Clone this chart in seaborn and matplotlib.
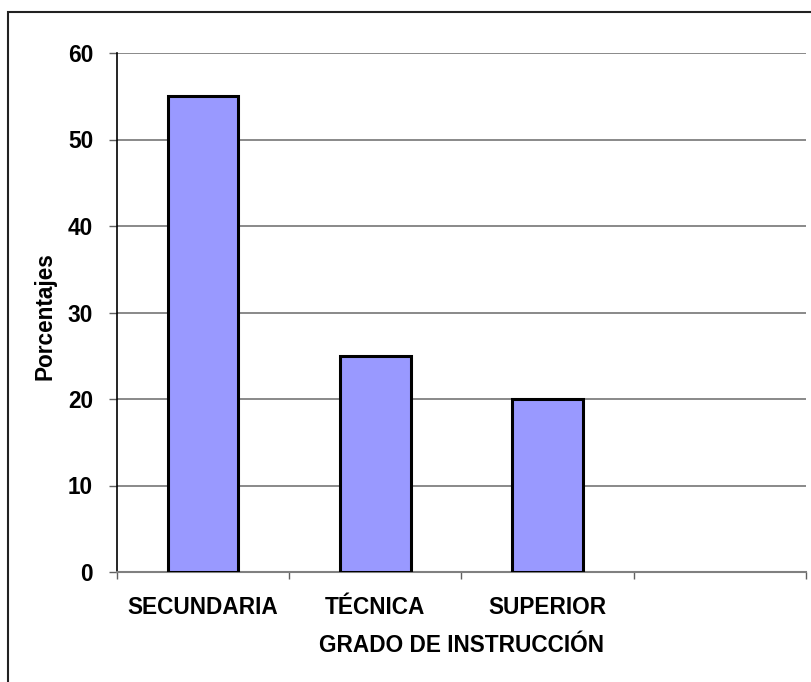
import matplotlib
matplotlib.use("Agg")
import matplotlib.pyplot as plt
import matplotlib.patches as mpatches
import seaborn as sns
import pandas as pd

categorias = ["SECUNDARIA", "TÉCNICA", "SUPERIOR"]
porcentajes = [55, 25, 20]
y_ticks = [0, 10, 20, 30, 40, 50, 60]

sns.set_theme(style="white")
plt.rcParams["font.family"] = ["Liberation Sans", "DejaVu Sans"]
plt.rcParams["font.weight"] = "bold"
plt.rcParams["text.color"] = "black"
plt.rcParams["axes.labelcolor"] = "black"
plt.rcParams["xtick.color"] = "black"
plt.rcParams["ytick.color"] = "black"

FS = 16.3

df = pd.DataFrame({"grado": categorias, "pct": porcentajes})

fig = plt.figure(figsize=(8.12, 6.82), dpi=100)
ax = fig.add_axes([117 / 812, 1 - 572 / 682, (806 - 117) / 812, (572 - 53) / 682])

sns.barplot(data=df, x="grado", y="pct", order=categorias, color="#9999FF",
            saturation=1, width=0.41, edgecolor="black", linewidth=2.2, ax=ax, zorder=3)

ax.set_xlim(-0.5, 3.5)
ax.set_ylim(0, 60)

# horizontal gridlines
ax.set_yticks(y_ticks)
ax.yaxis.grid(True, color="#808080", linewidth=1.3, zorder=0)
ax.xaxis.grid(False)

for s in ["top", "right"]:
    ax.spines[s].set_visible(False)
ax.spines["left"].set_color("black")
ax.spines["left"].set_linewidth(1.2)
ax.spines["bottom"].set_color("#808080")
ax.spines["bottom"].set_linewidth(1.5)
ax.spines["bottom"].set_bounds(-0.5, 3.5)

ax.tick_params(axis="y", which="major", direction="out", length=5.8, width=1.0,
               color="#606060", pad=11.5, labelsize=FS, left=True, labelcolor="black")
ax.set_yticklabels([str(v) for v in y_ticks], fontweight="bold")

# category labels at centers, tick marks at category boundaries
ax.set_xticks(range(len(categorias)))
ax.set_xticklabels(categorias, fontweight="bold")
ax.tick_params(axis="x", which="major", length=0, pad=17, labelsize=FS, labelcolor="black")
ax.set_xticks([-0.5, 0.5, 1.5, 2.5, 3.5], minor=True)
ax.tick_params(axis="x", which="minor", direction="out", length=5, width=1.0,
               color="#606060", bottom=True)

ax.set_xlabel("GRADO DE INSTRUCCIÓN", fontsize=FS, fontweight="bold", labelpad=11)
ax.set_ylabel("Porcentajes", fontsize=FS, fontweight="bold")
ax.yaxis.set_label_coords(-(117 - 57) / (806 - 117), (572 - 316) / (572 - 53))

# outer chart frame
frame = mpatches.Rectangle((8 / 812, -0.05), 1.1, (1 - 12 / 682) + 0.05,
                           transform=fig.transFigure, fill=False,
                           edgecolor="#222222", linewidth=1.5, clip_on=False)
fig.patches.append(frame)

fig.savefig("out.png", dpi=100)
